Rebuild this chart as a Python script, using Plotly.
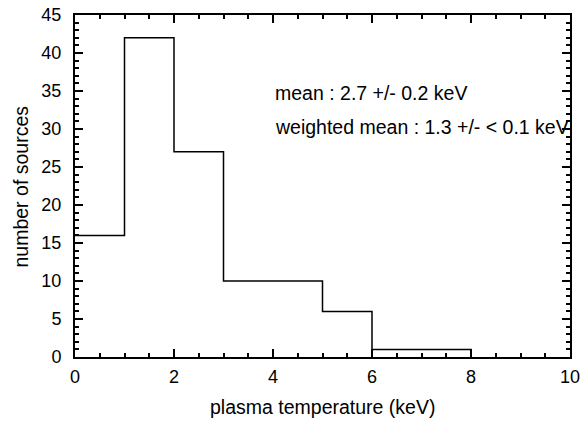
import plotly.graph_objects as go

bin_edges = [0, 1, 2, 3, 4, 5, 6, 7, 8]
counts = [16, 42, 27, 10, 10, 6, 1, 1]
x_ticks = [0, 2, 4, 6, 8, 10]
y_ticks = [0, 5, 10, 15, 20, 25, 30, 35, 40, 45]
notes = ["mean : 2.7 +/- 0.2 keV", "weighted mean : 1.3 +/- < 0.1 keV"]

xs = bin_edges + [bin_edges[-1]]
ys = counts + [counts[-1], 0]

font = "Liberation Sans, Arial, Helvetica, sans-serif"
fig = go.Figure()
fig.add_trace(go.Scatter(x=xs, y=ys, mode="lines", line=dict(shape="hv", color="black", width=1.5),
                         showlegend=False, hoverinfo="skip", cliponaxis=False))

axis_common = dict(showline=True, linecolor="black", linewidth=2, mirror="allticks",
                   ticks="inside", ticklen=8, tickwidth=1.5, tickcolor="black",
                   showgrid=False, zeroline=False, automargin=False,
                   ticklabeloverflow="allow",
                   tickfont=dict(family=font, size=18, color="black"))
fig.update_xaxes(range=[0, 10], tickvals=x_ticks, ticklabelstandoff=2,
                 minor=dict(ticks="inside", dtick=0.5, ticklen=4, tickwidth=1.5, tickcolor="black"),
                 **axis_common)
fig.update_yaxes(range=[0, 45], tickvals=y_ticks, ticklabelstandoff=8,
                 minor=dict(ticks="inside", dtick=1, ticklen=4, tickwidth=1.5, tickcolor="black"),
                 **axis_common)

W, H = 582, 422
L, T = 75, 15
R = W - 570
B = H - 357
pw, ph = W - L - R, H - T - B


def px(x):
    return (x - L) / pw


def py(y):
    return (H - B - y) / ph


fig.add_annotation(text="plasma temperature (keV)", xref="paper", yref="paper",
                   x=px(322.5), y=py(407), xanchor="center", yanchor="middle",
                   showarrow=False, font=dict(family=font, size=19.5, color="black"))
fig.add_annotation(text="number of sources", xref="paper", yref="paper", textangle=-90,
                   x=px(20), y=py(186.5), xanchor="center", yanchor="middle",
                   showarrow=False, font=dict(family=font, size=19.5, color="black"))
for t, yv in zip(notes, [93, 127]):
    fig.add_annotation(text=t, xref="paper", yref="paper", x=px(273), y=py(yv),
                       xanchor="left", yanchor="middle", showarrow=False,
                       font=dict(family=font, size=19.5, color="black"))

fig.update_layout(width=W, height=H, margin=dict(l=L, r=R, t=T, b=B, autoexpand=False),
                  plot_bgcolor="white", paper_bgcolor="white")
fig.write_html("out.html", config={"displayModeBar": False},
               post_script="document.body.style.margin='0';document.body.style.overflow='hidden';")
